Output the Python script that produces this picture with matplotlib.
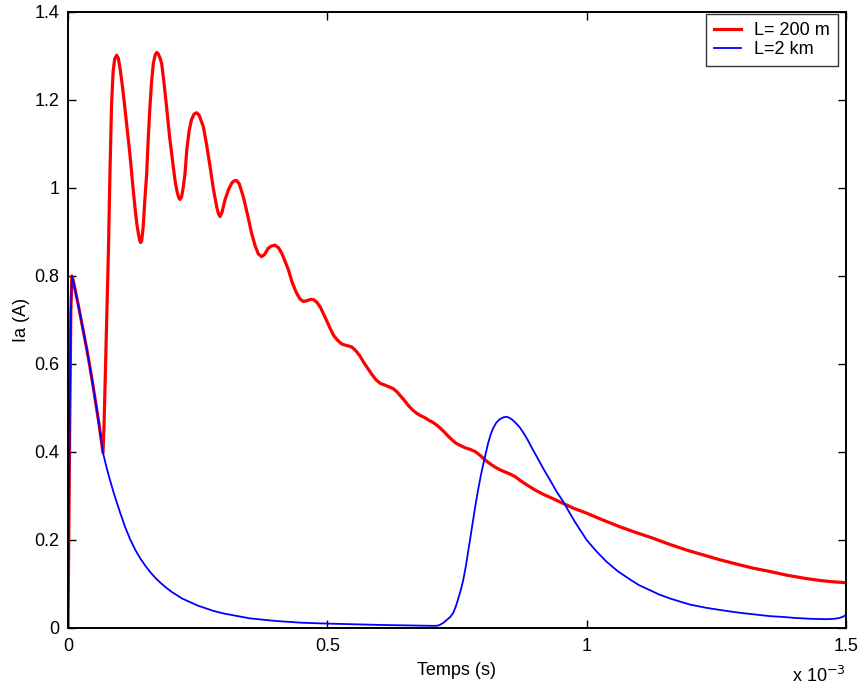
import numpy as np
import matplotlib
matplotlib.use("Agg")
import matplotlib.pyplot as plt

# time in ms, current in A  (L = 200 m)
t_red = [0.0, 0.003, 0.0055, 0.0075, 0.01, 0.015, 0.02, 0.025, 0.03, 0.036, 0.042, 0.049, 0.055, 0.06, 0.0675,
         0.0695, 0.072, 0.075, 0.078, 0.081, 0.084, 0.087, 0.090, 0.0938, 0.097, 0.100, 0.104, 0.108, 0.113,
         0.1195, 0.125, 0.129, 0.1325, 0.1356, 0.138, 0.140, 0.142, 0.145, 0.148, 0.1517, 0.155, 0.158,
         0.161, 0.1645, 0.168, 0.171, 0.174, 0.1775, 0.1806, 0.185, 0.190, 0.196, 0.203, 0.207, 0.211, 0.214,
         0.216, 0.219, 0.222, 0.2256, 0.229, 0.2335, 0.238, 0.243, 0.248, 0.253, 0.257, 0.261, 0.267, 0.274,
         0.280, 0.2867, 0.290, 0.293, 0.297, 0.3027, 0.309, 0.3156, 0.320, 0.325, 0.330, 0.338, 0.346, 0.354,
         0.361, 0.367, 0.3734, 0.379, 0.386, 0.392, 0.399, 0.406, 0.412, 0.418, 0.425, 0.432, 0.440, 0.447,
         0.454, 0.461, 0.468, 0.474, 0.480, 0.487, 0.495, 0.505, 0.512, 0.519, 0.527, 0.534, 0.541, 0.548,
         0.555, 0.563, 0.570, 0.578, 0.586, 0.594, 0.602, 0.611, 0.619, 0.627, 0.634, 0.640, 0.648, 0.656,
         0.664, 0.671, 0.679, 0.688, 0.696, 0.704, 0.711, 0.717, 0.725, 0.733, 0.741, 0.748, 0.756, 0.765,
         0.775, 0.785, 0.794, 0.804, 0.814, 0.823, 0.832, 0.842, 0.852, 0.862, 0.871, 0.885, 0.900, 0.916,
         0.935, 0.955, 0.975, 1.0, 1.03, 1.064, 1.095, 1.128, 1.16, 1.193, 1.225, 1.257, 1.29, 1.321, 1.355,
         1.386, 1.42, 1.45, 1.475, 1.5]
i_red = [0.0, 0.42, 0.72, 0.80, 0.79, 0.762, 0.733, 0.703, 0.672, 0.635, 0.595, 0.545, 0.50, 0.462, 0.398,
         0.46, 0.58, 0.73, 0.86, 1.04, 1.19, 1.265, 1.293, 1.302, 1.295, 1.275, 1.24, 1.20, 1.145,
         1.075, 1.005, 0.957, 0.92, 0.897, 0.882, 0.876, 0.880, 0.912, 0.97, 1.033, 1.12, 1.185,
         1.24, 1.283, 1.302, 1.308, 1.305, 1.295, 1.283, 1.24, 1.185, 1.115, 1.048, 1.012, 0.988, 0.977,
         0.974, 0.980, 1.000, 1.033, 1.086, 1.13, 1.155, 1.168, 1.171, 1.165, 1.152, 1.139, 1.10, 1.048,
         1.00, 0.957, 0.942, 0.935, 0.945, 0.973, 0.995, 1.011, 1.016, 1.017, 1.01, 0.980, 0.94, 0.897,
         0.868, 0.850, 0.844, 0.849, 0.863, 0.868, 0.870, 0.864, 0.852, 0.835, 0.814, 0.786, 0.763, 0.748,
         0.742, 0.744, 0.747, 0.746, 0.740, 0.728, 0.708, 0.682, 0.665, 0.655, 0.646, 0.643, 0.641, 0.638,
         0.630, 0.618, 0.604, 0.590, 0.576, 0.564, 0.556, 0.552, 0.548, 0.544, 0.537, 0.529, 0.518, 0.506,
         0.496, 0.489, 0.483, 0.478, 0.472, 0.467, 0.461, 0.455, 0.446, 0.436, 0.427, 0.420, 0.415, 0.410,
         0.406, 0.401, 0.393, 0.382, 0.373, 0.366, 0.360, 0.355, 0.350, 0.344, 0.336, 0.325, 0.314, 0.304,
         0.294, 0.283, 0.272, 0.261, 0.246, 0.230, 0.217, 0.204, 0.190, 0.177, 0.166, 0.155, 0.145, 0.136, 0.128,
         0.120, 0.113, 0.108, 0.105, 0.103]

# time in ms, current in A  (L = 2 km)
t_blue = [0.0, 0.003, 0.0055, 0.0075, 0.01, 0.015, 0.02, 0.025, 0.03, 0.036, 0.042, 0.049, 0.055, 0.06, 0.0675,
          0.075, 0.081, 0.09, 0.1, 0.11, 0.12, 0.13, 0.14, 0.15, 0.16, 0.17, 0.18, 0.19, 0.2, 0.22, 0.25, 0.28, 0.3,
          0.35, 0.4, 0.45, 0.5, 0.6, 0.7, 0.711, 0.717, 0.724, 0.730, 0.737, 0.743, 0.748, 0.752, 0.757, 0.762,
          0.767, 0.771, 0.776, 0.781, 0.786, 0.791, 0.796, 0.801, 0.806, 0.810, 0.815, 0.820, 0.826, 0.833,
          0.840, 0.846, 0.852, 0.858, 0.864, 0.871, 0.879, 0.887, 0.895, 0.904, 0.917, 0.930, 0.942, 0.955,
          0.967, 0.978, 0.989, 1.0, 1.019, 1.038, 1.06, 1.084, 1.10, 1.12, 1.14, 1.161, 1.18, 1.2, 1.23, 1.257,
          1.28, 1.30, 1.33, 1.353, 1.38, 1.40, 1.43, 1.463, 1.478, 1.488, 1.495, 1.5]
i_blue = [0.0, 0.42, 0.72, 0.80, 0.79, 0.762, 0.733, 0.703, 0.672, 0.635, 0.595, 0.545, 0.50, 0.462, 0.398,
          0.362, 0.336, 0.300, 0.264, 0.230, 0.201, 0.177, 0.157, 0.140, 0.125, 0.112, 0.101, 0.091, 0.082, 0.067,
          0.051, 0.039, 0.033, 0.022, 0.016, 0.012, 0.010, 0.007, 0.005, 0.005, 0.007, 0.012, 0.018, 0.025,
          0.035, 0.050, 0.065, 0.085, 0.109, 0.14, 0.170, 0.207, 0.245, 0.282, 0.316, 0.347, 0.374, 0.400,
          0.420, 0.440, 0.455, 0.467, 0.475, 0.479, 0.480, 0.477, 0.472, 0.465, 0.456, 0.442, 0.426, 0.408,
          0.389, 0.361, 0.335, 0.310, 0.287, 0.262, 0.240, 0.220, 0.200, 0.174, 0.151, 0.129, 0.110, 0.098,
          0.087, 0.076, 0.067, 0.060, 0.053, 0.046, 0.041, 0.037, 0.034, 0.030, 0.027, 0.025, 0.023, 0.021,
          0.020, 0.021, 0.023, 0.026, 0.030]

labels = ["L= 200 m", "L=2 km"]
xticks = [0, 0.5, 1, 1.5]
xticklabels = ["0", "0.5", "1", "1.5"]
yticks = [0, 0.2, 0.4, 0.6, 0.8, 1.0, 1.2, 1.4]
yticklabels = ["0", "0.2", "0.4", "0.6", "0.8", "1", "1.2", "1.4"]

plt.rcParams['font.family'] = ['Liberation Sans', 'DejaVu Sans']
FS = 13

fig = plt.figure(figsize=(8.62, 6.89), dpi=100)
ax = fig.add_axes([68/862, 61/689, 778/862, 616/689])

ax.plot(np.array(t_red) * 1e-3, i_red, color='#ff0000', lw=2.3, label=labels[0],
        solid_joinstyle='round')
ax.plot(np.array(t_blue) * 1e-3, i_blue, color='#0000ff', lw=1.3, label=labels[1],
        solid_joinstyle='round')

ax.set_xlim(0, 1.5e-3)
ax.set_ylim(0, 1.4)
ax.set_xticks([v * 1e-3 for v in xticks])
ax.set_xticklabels(xticklabels)
ax.set_yticks(yticks)
ax.set_yticklabels(yticklabels)
ax.tick_params(direction='in', top=True, right=True, length=6, width=1, labelsize=FS)
ax.tick_params(axis='x', pad=7.5)
ax.tick_params(axis='y', pad=6)
for s in ax.spines.values():
    s.set_linewidth(1.4)

ax.set_xlabel("Temps (s)", fontsize=FS, labelpad=5)
ax.set_ylabel("Ia (A)", fontsize=FS, labelpad=3.5)
fig.text(846/862, 1 - 682/689, r"x 10$^{-3}$", ha='right', va='baseline', fontsize=FS)

leg = ax.legend(loc='upper right', bbox_to_anchor=(838/862, 1 - 14/689),
                bbox_transform=fig.transFigure, fontsize=FS, frameon=True, fancybox=False,
                edgecolor='black', handlelength=1.5, borderaxespad=0.0,
                labelspacing=0.12, borderpad=0.45, handletextpad=0.7)
leg.get_frame().set_linewidth(1.0)

fig.savefig("out.png", dpi=100)
